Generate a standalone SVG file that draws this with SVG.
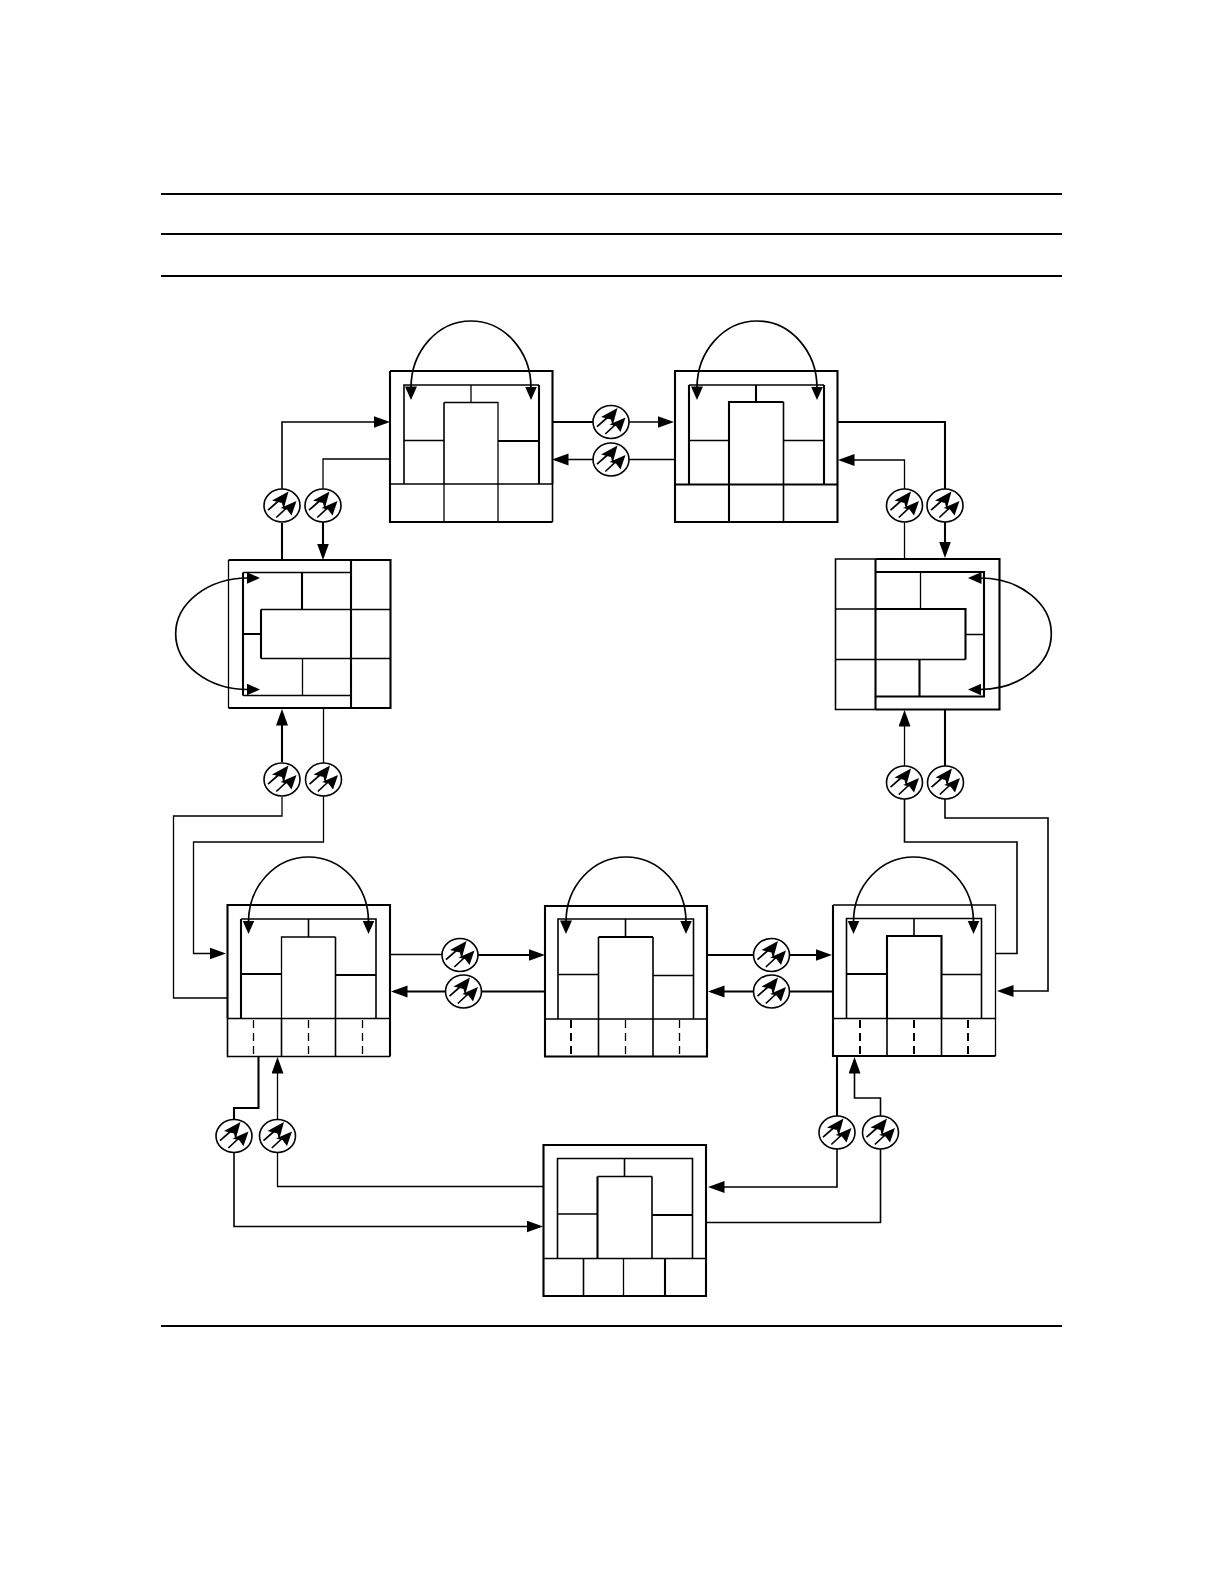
<svg xmlns="http://www.w3.org/2000/svg" width="1224" height="1584" viewBox="0 0 1224 1584">
<style>
path,rect,line{fill:none;stroke:#000}
.t{stroke-width:1.3}
.m{stroke-width:1.6}
.k{stroke-width:2.1}
.d{stroke-width:1.3;stroke-dasharray:8 5}
.dk{stroke-width:2;stroke-dasharray:8 5}
.a{marker-end:url(#ah)}
.c{stroke-width:1.7;marker-start:url(#sh);marker-end:url(#sh)}
.r{stroke-width:2}
</style>
<defs>
<marker id="ah" markerUnits="userSpaceOnUse" markerWidth="18" markerHeight="14" refX="13.500" refY="6" orient="auto"><path d="M0 0L16.500 6L0 12Z" style="fill:#000;stroke:none"/></marker>
<marker id="sh" markerUnits="userSpaceOnUse" markerWidth="16" markerHeight="14" refX="1.500" refY="6" orient="auto-start-reverse"><path d="M0 0L13.500 6L0 12Z" style="fill:#000;stroke:none"/></marker>
<g id="laser">
<ellipse cx="0" cy="0" rx="18" ry="16.500" fill="#fff" stroke="#000" stroke-width="1.6"/>
<path d="M-14 4.700L-3 -5M-5.700 12L4 3" style="stroke-width:1.7"/>
<path d="M6.500 -14L-10 -5L0 -2.500L1.500 4ZM14.500 -4.500L-1.500 2.500L5 4L9.500 10Z" style="fill:#000;stroke:none"/>
</g>
</defs>

<g id="rules">
<line class="r" x1="161" y1="194" x2="1062" y2="194"/>
<line class="r" x1="161" y1="234" x2="1062" y2="234"/>
<line class="r" x1="161" y1="276" x2="1062" y2="276"/>
<line class="r" x1="161" y1="1326" x2="1062" y2="1326"/>
</g>

<g id="connectors">
<path class="k" d="M552 422H593"/><path class="t a" d="M629 422H671"/>
<path class="t" d="M675 459.500H629"/><path class="m a" d="M593 459.500H555"/>
<path class="m a" d="M282 505V422H387"/><path class="k" d="M282 523V560"/>
<path class="t" d="M390 459H323V489"/><path class="k a" d="M323 522V557"/>
<path class="k a" d="M282 762V712"/><path class="t" d="M323.500 708V763"/>
<path class="t" d="M282 797V816H173.500V998H228"/>
<path class="t a" d="M323.500 796V842H193.500V953.500H223"/>
<path class="t" d="M390 954.500H442"/><path class="k a" d="M478 955H542"/>
<path class="k" d="M545 991.500H481"/><path class="k a" d="M445 991.500H394"/>
<path class="k" d="M707 955H753"/><path class="k a" d="M789 955H829"/>
<path class="k" d="M833 991.500H789"/><path class="k a" d="M753 991.500H711"/>
<path class="t a" d="M904.500 766V713"/><path class="k" d="M945 709V766"/>
<path class="m" d="M904.500 799V842H1017V953.500H995"/>
<path class="m a" d="M945 799V818H1048V991H1000"/>
<path class="k" d="M837 422H945V489"/><path class="k a" d="M945 522V555"/>
<path class="t a" d="M904.500 489V460H841"/><path class="t" d="M904.500 522V559"/>
<path class="k" d="M258.500 1056V1108H234V1120"/>
<path class="m a" d="M234 1152V1226.500H540"/>
<path class="t a" d="M277.500 1120V1060"/>
<path class="t" d="M277.500 1152V1186.500H544"/>
<path class="k" d="M837 1056V1116"/>
<path class="m a" d="M837 1148V1187H711"/>
<path class="m a" d="M880.500 1116V1098H854.500V1060"/>
<path class="m" d="M880.500 1148V1222.500H706"/>
</g>

<g id="lasers">
<use href="#laser" x="611" y="422"/><use href="#laser" x="611" y="459.500"/>
<use href="#laser" x="282" y="505.500"/><use href="#laser" x="323" y="505.500"/>
<use href="#laser" x="904.500" y="505.500"/><use href="#laser" x="945" y="505.500"/>
<use href="#laser" x="282" y="779.500"/><use href="#laser" x="323.500" y="779.500"/>
<use href="#laser" x="904.500" y="782.500"/><use href="#laser" x="945.500" y="782.500"/>
<use href="#laser" x="460" y="955"/><use href="#laser" x="463.500" y="991.500"/>
<use href="#laser" x="771.500" y="955"/><use href="#laser" x="771.500" y="991.500"/>
<use href="#laser" x="234" y="1136"/><use href="#laser" x="277.500" y="1136"/>
<use href="#laser" x="837" y="1132.500"/><use href="#laser" x="880.500" y="1132.500"/>
</g>

<g id="node-a">
<path class="k" d="M390 371H552.500V484"/><path class="k" d="M390 371V522H552.500"/><path class="m" d="M552.500 484V522"/>
<path class="m" d="M404 484V385H539"/><path class="k" d="M539 385V484"/>
<path class="m" d="M444 484V402.500"/><path class="t" d="M444 402.500H498V484M471 385V402.500M404 440.500H444"/>
<path class="k" d="M498 441H539"/>
<path class="m" d="M390 484H552.500"/><path class="t" d="M444 484V522M498 484V522"/>
<path class="c" d="M411 388A60 67 0 0 1 531 388"/>
</g>

<g id="node-g">
<path class="k" d="M675 371H837.500V522H675Z"/>
<path class="k" d="M689 484V385"/><path class="t" d="M689 385H824"/><path class="k" d="M824 385V484"/>
<path class="k" d="M729 484V402H783.500M756 385V402"/><path class="m" d="M783.500 402V484"/>
<path class="t" d="M689 440.500H729M783.500 440.500H824"/>
<path class="k" d="M675 484.500H837.500M729 484V522"/><path class="m" d="M783.500 484V522"/>
<path class="c" d="M697 388A60 67 0 0 1 817 388"/>
</g>

<g id="node-b">
<path class="k" d="M228.500 708H390.500V560H228.500"/><path class="t" d="M228.500 560V708"/>
<path class="k" d="M351 560V708"/>
<path class="k" d="M243 572.500V695.500M243 634H261M261 609.500V658.500M302 572.500V609.500"/>
<path class="t" d="M243 572.500H351M243 695.500H351M261 609.500H390.500M261 658.500H390.500M302.500 658.500V695.500"/>
<path class="c" d="M248 578A72 55.500 0 0 0 248 689.500"/>
</g>

<g id="node-h">
<path class="k" d="M875.500 559H999.500V709.500H875.500"/><path class="m" d="M875.500 559H835.500V709.500H875.500"/>
<path class="k" d="M875.500 559V709.500"/>
<path class="k" d="M875.500 572H984V696.500H875.500M875.500 609H965.500V659.500M919.500 659.500V696.500"/>
<path class="t" d="M835.500 609H875.500M835.500 659.500H965.500M920.500 572V609M965.500 634.500H984"/>
<path class="c" d="M980 578A71 55.500 0 0 1 980 689.500"/>
</g>

<g id="node-c">
<path class="k" d="M227.500 1018.500V905H390V1056.500"/><path class="m" d="M227.500 1018.500V1056.500H390"/>
<path class="k" d="M241 1018.500V919"/><path class="m" d="M241 919H376V1018.500"/>
<path class="t" d="M281.500 1018.500V937H335.500"/><path class="m" d="M335.500 937V1018.500M308.500 919V937"/>
<path class="k" d="M241 974H281.500M335.500 975H376"/>
<path class="m" d="M227.500 1018.500H390M281.500 1018.500V1056.500M335.500 1018.500V1056.500"/>
<path class="d" d="M253.500 1020V1056M308.500 1020V1056M362.500 1020V1056"/>
<path class="c" d="M248.500 922A60 65 0 0 1 368.500 922"/>
</g>

<g id="node-d">
<path class="k" d="M545 906H707V1056.500H545Z"/>
<path class="m" d="M558 1019V919H693.500V1019M598.500 1019V937M653 1019V937M625.500 919V937"/>
<path class="k" d="M598.500 937H653"/>
<path class="m" d="M558 974.500H598.500M653 975.500H693.500"/>
<path class="m" d="M545 1019H707M598.500 1019V1056.500M653 1019V1056.500"/>
<path class="dk" d="M571 1020V1056"/>
<path class="d" d="M625.500 1020V1056M679.500 1020V1056"/>
<path class="c" d="M566 922A60 65 0 0 1 686 922"/>
</g>

<g id="node-e">
<path class="t" d="M833 905H995.500V1018"/><path class="k" d="M833 905V1056H995.500"/><path class="t" d="M995.500 1018V1056"/>
<path class="m" d="M846.500 1018.500V918.500H981.500V1018.500"/>
<path class="k" d="M887 1018.500V936H941.500V1018.500"/><path class="m" d="M914 918.500V936"/>
<path class="k" d="M846.500 974H887"/><path class="t" d="M941.500 974.500H981.500"/>
<path class="m" d="M833 1018.500H995.500M887 1018.500V1056M941.500 1018.500V1056"/>
<path class="dk" d="M860 1020V1056M914 1020V1056M968 1020V1056"/>
<path class="c" d="M853.500 922A60 65 0 0 1 973.500 922"/>
</g>

<g id="node-f">
<path class="k" d="M543.500 1145H706V1296H543.500Z"/>
<path class="m" d="M557.500 1258.500V1158.500H692.500V1258.500M624.500 1158.500V1176.500"/>
<path class="k" d="M597.500 1258.500V1176.500"/><path class="t" d="M597.500 1176.500H652"/><path class="m" d="M652 1176.500V1258.500"/>
<path class="m" d="M557.500 1214H597.500"/><path class="k" d="M652 1215H692.500"/>
<path class="m" d="M543.500 1258.500H706M583.500 1258.500V1296"/><path class="t" d="M623.500 1258.500V1296"/><path class="k" d="M665 1258.500V1296"/>
</g>
</svg>
